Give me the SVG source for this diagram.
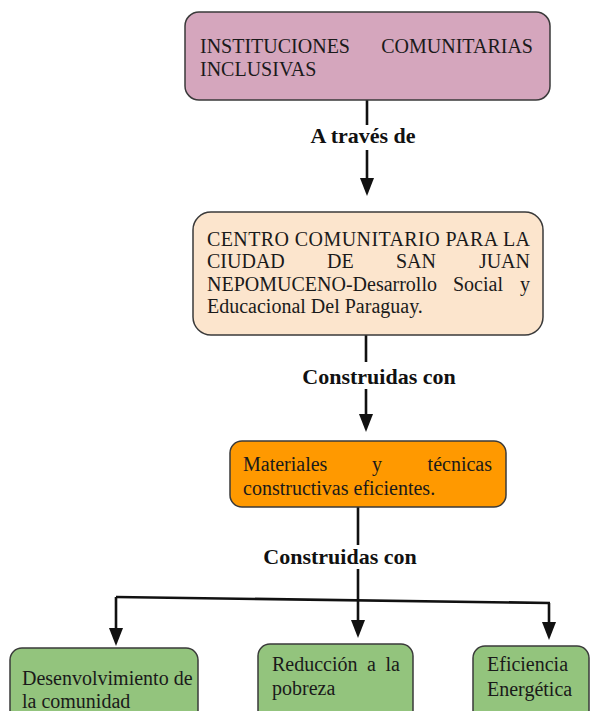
<svg xmlns="http://www.w3.org/2000/svg" width="601" height="711" viewBox="0 0 601 711">
<defs>
<style>
.box{stroke:#3a3a3a;stroke-width:1.5}
.t{font-family:"Liberation Serif","Times New Roman",serif;font-size:20px;fill:#1a1a1a}
.lbl{font-family:"Liberation Serif","Times New Roman",serif;font-size:22px;font-weight:bold;fill:#111;text-anchor:middle}
.ln{stroke:#111;stroke-width:2.6;fill:none}
.ah{fill:#111}
.e{text-anchor:end}
</style>
</defs>
<rect width="601" height="711" fill="#ffffff"/>
<g id="connectors">
<line class="ln" x1="367" y1="100" x2="367" y2="125"/>
<line class="ln" x1="367" y1="150" x2="367" y2="180"/>
<polygon class="ah" points="360,178 374,178 367,196"/>
<line class="ln" x1="366" y1="335" x2="366" y2="362"/>
<line class="ln" x1="366" y1="389" x2="366" y2="416"/>
<polygon class="ah" points="359,414 373,414 366,432"/>
<line class="ln" x1="358" y1="507" x2="358" y2="545"/>
<line class="ln" x1="358" y1="569" x2="358" y2="599"/>
<path class="ln" d="M116,597 L550,603"/>
<line class="ln" x1="116" y1="597" x2="116" y2="630"/>
<polygon class="ah" points="109,628 123,628 116,646"/>
<line class="ln" x1="358" y1="599" x2="358" y2="622"/>
<polygon class="ah" points="351,620 365,620 358,638"/>
<line class="ln" x1="549" y1="603" x2="549" y2="624"/>
<polygon class="ah" points="542,622 556,622 549,640"/>
<text class="lbl" x="363" y="143">A través de</text>
<text class="lbl" x="379" y="384">Construidas con</text>
<text class="lbl" x="340" y="564">Construidas con</text>
</g>
<g id="n1">
<rect class="box" x="185" y="12" width="365" height="88" rx="14" fill="#d5a6bd"/>
<text class="t" x="200" y="53">INSTITUCIONES</text>
<text class="t e" x="533" y="53">COMUNITARIAS</text>
<text class="t" x="200" y="76">INCLUSIVAS</text>
</g>
<g id="n2">
<rect class="box" x="193" y="212" width="350" height="123" rx="18" fill="#fce5cd"/>
<text class="t" x="207" y="246" textLength="323" lengthAdjust="spacing">CENTRO COMUNITARIO PARA LA</text>
<text class="t" x="207" y="268">CIUDAD</text>
<text class="t" x="327" y="268">DE</text>
<text class="t" x="396" y="268">SAN</text>
<text class="t e" x="530" y="268">JUAN</text>
<text class="t" x="207" y="291">NEPOMUCENO-Desarrollo</text>
<text class="t" x="453" y="291">Social</text>
<text class="t e" x="530" y="291">y</text>
<text class="t" x="207" y="313">Educacional Del Paraguay.</text>
</g>
<g id="n3">
<rect class="box" x="230" y="441" width="276" height="66" rx="12" fill="#ff9900"/>
<text class="t" x="243" y="471">Materiales</text>
<text class="t" x="372" y="471">y</text>
<text class="t e" x="492" y="471">técnicas</text>
<text class="t" x="243" y="495">constructivas eficientes.</text>
</g>
<g id="n4">
<rect class="box" x="10" y="648" width="188" height="80" rx="12" fill="#93c47d"/>
<text class="t" x="22" y="685">Desenvolvimiento de</text>
<text class="t" x="22" y="708">la comunidad</text>
</g>
<g id="n5">
<rect class="box" x="258" y="644" width="155" height="80" rx="12" fill="#93c47d"/>
<text class="t" x="272" y="671">Reducción</text>
<text class="t" x="367" y="671">a</text>
<text class="t e" x="400" y="671">la</text>
<text class="t" x="272" y="695">pobreza</text>
</g>
<g id="n6">
<rect class="box" x="473" y="646" width="116" height="80" rx="12" fill="#93c47d"/>
<text class="t" x="487" y="671">Eficiencia</text>
<text class="t" x="487" y="696">Energética</text>
</g>
</svg>
